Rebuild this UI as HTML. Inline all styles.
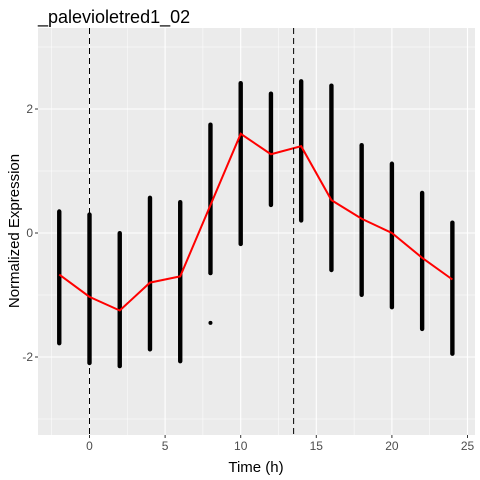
<!DOCTYPE html>
<html><head><meta charset="utf-8"><style>
body{margin:0;background:#fff;}
svg{display:block;font-family:"Liberation Sans",Arial,sans-serif;}
</style></head><body>
<svg id="chart" width="480" height="480">
<rect width="480" height="480" fill="#fff"/>
<rect x="38" y="28" width="437" height="407" fill="#ebebeb"/>
<g id="grid"></g><g id="marks"></g><g id="axes"></g>
<text x="38" y="23" font-size="18" fill="#000">_palevioletred1_02</text>
<text x="256" y="472" font-size="15" text-anchor="middle" fill="#000">Time (h)</text>
<text transform="translate(19,231) rotate(-90)" font-size="15" text-anchor="middle" fill="#000">Normalized Expression</text>
</svg>
<script>
const times=[-2,0,2,4,6,8,10,12,14,16,18,20,22,24];
const mins=[-1.78,-2.1,-2.15,-1.88,-2.07,-0.65,-0.18,0.45,0.2,-0.6,-1.0,-1.2,-1.55,-1.95];
const maxs=[0.35,0.3,0.0,0.57,0.5,1.75,2.42,2.25,2.45,2.38,1.42,1.12,0.65,0.17];
const outliers=[[8,-1.45]];
const means=[-0.67,-1.03,-1.25,-0.8,-0.7,0.45,1.6,1.27,1.4,0.53,0.23,0.0,-0.4,-0.75];
const xTicks=[0,5,10,15,20,25];
const yTicks=[-2,0,2];
const vlines=[0,13.5];
const NS="http://www.w3.org/2000/svg";
const X=v=>89.5+v*15.12, Y=v=>233-v*62;
const L=38,R=475,T=28,B=435;
function mk(p,tag,a){const e=document.createElementNS(NS,tag);for(const k in a)e.setAttribute(k,a[k]);p.appendChild(e);return e;}
const g=document.getElementById('grid'),m=document.getElementById('marks'),ax=document.getElementById('axes');
[-3,-1,1,3].forEach(v=>{const e=mk(g,'line',{x1:L,x2:R,y1:Y(v),y2:Y(v),stroke:'#fff','stroke-width':0.5});

});
[-2.5,2.5,7.5,12.5,17.5,22.5].forEach(v=>{const e=mk(g,'line',{x1:X(v),x2:X(v),y1:T,y2:B,stroke:'#fff','stroke-width':0.5});

});
yTicks.forEach(v=>{const e=mk(g,'line',{x1:L,x2:R,y1:Y(v),y2:Y(v),stroke:'#fff','stroke-width':1.1});


mk(ax,'line',{x1:L-3,x2:L,y1:Y(v),y2:Y(v),stroke:'#333'});
const t=mk(ax,'text',{x:L-5,y:Y(v)+4,'font-size':12,'text-anchor':'end',fill:'#4d4d4d'});t.textContent=v;

});
xTicks.forEach(v=>{const e=mk(g,'line',{x1:X(v),x2:X(v),y1:T,y2:B,stroke:'#fff','stroke-width':1.1});


mk(ax,'line',{x1:X(v),x2:X(v),y1:B,y2:B+3,stroke:'#333'});
const t=mk(ax,'text',{x:X(v),y:B+15,'font-size':12,'text-anchor':'middle',fill:'#4d4d4d'});t.textContent=v;

});
times.forEach((t,i)=>{const y0=Y(maxs[i]),y1=Y(mins[i]);
const r=mk(m,'rect',{x:X(t)-2.2,y:y0-2,width:4.4,height:y1-y0+4,rx:2.2,fill:'#000'});

});
outliers.forEach(o=>{const c=mk(m,'circle',{cx:X(o[0]),cy:Y(o[1]),r:2,fill:'#000'});

});
const pl=mk(m,'polyline',{points:times.map((t,i)=>X(t)+','+Y(means[i])).join(' '),fill:'none',stroke:'#ff0000','stroke-width':2});


vlines.forEach(v=>{const e=mk(m,'line',{x1:X(v),x2:X(v),y1:T,y2:B,stroke:'#000','stroke-dasharray':'6,4','stroke-width':1});

});
</script>
</body></html>
